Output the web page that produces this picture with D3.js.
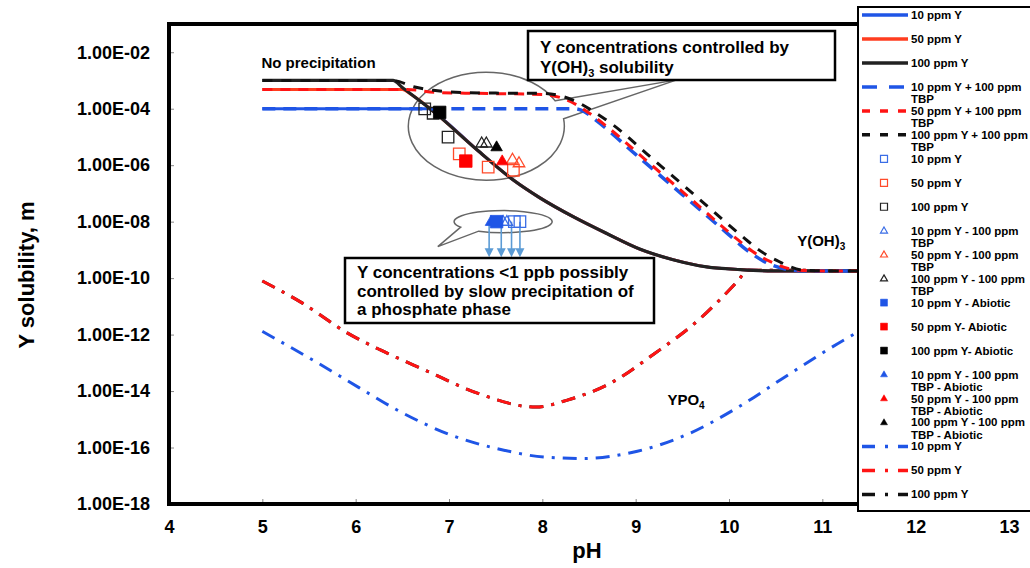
<!DOCTYPE html>
<html><head><meta charset="utf-8">
<script src="https://cdn.jsdelivr.net/npm/d3@7"></script>
<style>
body{margin:0;background:#fff}
svg{display:block}
text{font-family:"Liberation Sans",Arial,sans-serif;font-weight:bold;fill:#000}
</style>
</head><body>
<svg id="c" width="1030" height="568"></svg>
<script>
// ---------- axis ticks ----------
const xTicks = [4,5,6,7,8,9,10,11,12,13];
const xTickLabels = ["4","5","6","7","8","9","10","11","12","13"];
const yTicks = [1e-2,1e-4,1e-6,1e-8,1e-10,1e-12,1e-14,1e-16,1e-18];
const yTickLabels = ["1.00E-02","1.00E-04","1.00E-06","1.00E-08","1.00E-10","1.00E-12","1.00E-14","1.00E-16","1.00E-18"];

// ---------- Y(OH)3 solubility curves, no TBP (solid) [pH, molality] ----------
const oh10 = [[5,1.0e-4],[6.78,1.0e-4],[6.87,6.3e-5],[7.3,3.5e-6],[7.7,2.8e-7],[7.97,7.1e-8],[8.33,1.5e-8],[8.69,3.8e-9],[9.05,1.05e-9],[9.4,4.5e-10],[9.76,2.5e-10],[10.12,2.0e-10],[10.47,1.8e-10],[11,1.8e-10],[12,1.8e-10]];
const oh50 = [[5,4.8e-4],[6.5,4.8e-4],[6.6,3.1e-4],[6.87,6.3e-5],[7.3,3.5e-6],[7.7,2.8e-7],[7.97,7.1e-8],[8.33,1.5e-8],[8.69,3.8e-9],[9.05,1.05e-9],[9.4,4.5e-10],[9.76,2.5e-10],[10.12,2.0e-10],[10.47,1.8e-10],[11,1.8e-10],[12,1.8e-10]];
const oh100 = [[5,1.0e-3],[6.4,1.0e-3],[6.5,5.6e-4],[6.87,6.3e-5],[7.3,3.5e-6],[7.7,2.8e-7],[7.97,7.1e-8],[8.33,1.5e-8],[8.69,3.8e-9],[9.05,1.05e-9],[9.4,4.5e-10],[9.76,2.5e-10],[10.12,2.0e-10],[10.47,1.8e-10],[11,1.8e-10],[12,1.8e-10]];

// ---------- with 100 ppm TBP (dashed) ----------
const tbp10 = [[5,1.0e-4],[8.35,1.0e-4],[8.45,7.9e-5],[8.58,3.8e-5],[9.0,2.4e-6],[9.5,9.1e-8],[10.0,3.4e-9],[10.15,1.26e-9],[10.37,4.0e-10],[10.67,1.95e-10],[10.9,1.8e-10],[12,1.8e-10]];
const tbp50 = [[5,4.8e-4],[6.55,4.8e-4],[6.85,3.8e-4],[7.3,3.5e-4],[8.0,3.2e-4],[8.3,1.8e-4],[8.5,7.1e-5],[8.68,2.5e-5],[9.1,1.6e-6],[9.6,6.0e-8],[10.1,2.2e-9],[10.25,8.9e-10],[10.47,3.5e-10],[10.75,1.9e-10],[11,1.8e-10],[12,1.8e-10]];
const tbp100 = [[5,1.0e-3],[6.4,1.0e-3],[6.62,6.0e-4],[6.83,4.5e-4],[7.33,3.6e-4],[8.0,3.5e-4],[8.33,2.0e-4],[8.55,7.9e-5],[8.75,2.8e-5],[9.17,1.8e-6],[9.67,6.8e-8],[10.17,2.5e-9],[10.32,1.0e-9],[10.54,3.8e-10],[10.8,1.9e-10],[11.05,1.8e-10],[12,1.8e-10]];

// ---------- YPO4 solubility (dash-dot) ----------
const po10 = [[5,1.3e-12],[5.57,1.1e-13],[6.04,1.3e-14],[6.46,2.0e-15],[7.03,2.7e-16],[7.6,7.9e-17],[8.02,4.6e-17],[8.45,4.1e-17],[8.97,6.8e-17],[9.58,3.2e-16],[10.1,2.7e-15],[10.62,3.5e-14],[11.3,8.7e-13],[11.6,3.0e-12]];
const po50 = [[5,7.9e-11],[5.43,1.3e-11],[5.9,1.2e-12],[6.27,2.8e-13],[6.75,5.4e-14],[7.32,8.1e-15],[7.93,2.7e-15],[8.26,4.7e-15],[8.73,1.9e-14],[9.2,2.1e-13],[9.67,3.2e-12],[10.1,8.3e-11],[10.2,1.9e-10],[12,1.8e-10]];
const po100 = [[5,7.9e-11],[5.43,1.3e-11],[5.9,1.2e-12],[6.27,2.8e-13],[6.75,5.4e-14],[7.32,8.1e-15],[7.93,2.7e-15],[8.26,4.7e-15],[8.73,1.9e-14],[9.2,2.1e-13],[9.67,3.2e-12],[10.1,8.3e-11],[10.2,1.9e-10],[12,1.8e-10]];

// ---------- measured concentrations [pH, molality] ----------
const openSq10 = [[7.70,1.0e-8],[7.76,1.0e-8]];
const openSq50 = [[7.11,2.5e-6],[7.42,8.5e-7],[7.69,6.6e-7]];
const openSq100 = [[6.74,9.8e-5],[6.83,6.9e-5],[6.99,9.8e-6]];
const openTri10 = [[7.58,1.0e-8],[7.62,1.0e-8]];
const openTri50 = [[7.68,1.6e-6],[7.75,1.2e-6]];
const openTri100 = [[7.35,6.0e-6],[7.40,6.0e-6]];
const fillSq10 = [[7.51,1.0e-8]];
const fillSq50 = [[7.18,1.4e-6]];
const fillSq100 = [[6.90,7.4e-5]];
const fillTri10 = [[7.45,1.0e-8]];
const fillTri50 = [[7.57,1.4e-6]];
const fillTri100 = [[7.51,4.4e-6]];

// arrows (values below 1 ppb)
const arrowPH = [7.43,7.56,7.67,7.76];
const arrowFrom = 1.0e-8, arrowTo = 5.5e-10;

const legendLabels = ["10 ppm Y","50 ppm Y","100 ppm Y","10 ppm Y + 100 ppm\nTBP","50 ppm Y + 100 ppm\nTBP","100 ppm Y + 100 ppm\nTBP","10 ppm Y","50 ppm Y","100 ppm Y","10 ppm Y - 100 ppm\nTBP","50 ppm Y - 100 ppm\nTBP","100 ppm Y - 100 ppm\nTBP","10 ppm Y - Abiotic","50 ppm Y- Abiotic","100 ppm Y- Abiotic","10 ppm Y - 100 ppm\nTBP - Abiotic","50 ppm Y - 100 ppm\nTBP - Abiotic","100 ppm Y - 100 ppm\nTBP - Abiotic","10 ppm Y","50 ppm Y","100 ppm Y"];

// ---------- styles ----------
const BLUE="#1f55e6", RED="#ff1414", REDS="#ff3d1f", BLACK="#111111";
const MBLUE="#3a6de6", MRED="#ff4a2a", MBLACK="#222";
const DASHDOT="14,8,3,8";

const lineSeries = [
  {data:po100, color:BLACK, w:3, dash:DASHDOT, leg:20},
  {data:po50, color:RED, w:3, dash:DASHDOT, leg:19},
  {data:po10, color:BLUE, w:3, dash:DASHDOT, leg:18},
  {data:oh10, color:BLUE, w:3, dash:null, leg:0},
  {data:oh50, color:REDS, w:3, dash:null, leg:1},
  {data:oh100, color:"#222", w:3.2, dash:null, leg:2},
  {data:tbp10, color:BLUE, w:3.5, dash:"13,8", leg:3},
  {data:tbp50, color:RED, w:3, dash:"10,8", leg:4},
  {data:tbp100, color:BLACK, w:3, dash:"10,9", leg:5},
];
const markerSeries = [
  {data:openSq10, shape:"sq", fill:false, color:MBLUE, leg:6},
  {data:openSq50, shape:"sq", fill:false, color:MRED, leg:7},
  {data:openSq100, shape:"sq", fill:false, color:MBLACK, leg:8},
  {data:openTri10, shape:"tri", fill:false, color:MBLUE, leg:9},
  {data:openTri50, shape:"tri", fill:false, color:MRED, leg:10},
  {data:openTri100, shape:"tri", fill:false, color:MBLACK, leg:11},
  {data:fillTri10, shape:"tri", fill:true, color:BLUE, leg:15},
  {data:fillSq10, shape:"sq", fill:true, color:BLUE, leg:12},
  {data:fillSq50, shape:"sq", fill:true, color:"#ff0000", leg:13},
  {data:fillSq100, shape:"sq", fill:true, color:"#000", leg:14},
  {data:fillTri50, shape:"tri", fill:true, color:"#ff0000", leg:16},
  {data:fillTri100, shape:"tri", fill:true, color:"#000", leg:17},
];

// ---------- scales ----------
const X0=169, X1=1009, Y0=504, Y1=24;
const x = d3.scaleLinear().domain([4,13]).range([X0,X1]);
const y = d3.scaleLog().domain([1e-18,1e-1]).range([Y0,Y1]);
const svg = d3.select("#c");

svg.append("defs").append("clipPath").attr("id","clip")
  .append("rect").attr("x",X0).attr("y",Y1).attr("width",X1-X0).attr("height",Y0-Y1);

// axes
const gx = svg.append("g").attr("transform",`translate(0,${Y0})`)
  .call(d3.axisBottom(x).tickValues(xTicks).tickFormat((d,i)=>xTickLabels[i]).tickSize(-5).tickSizeOuter(0).tickPadding(16));
gx.select(".domain").remove();
gx.selectAll(".tick line").attr("stroke","#888").attr("stroke-width",1);
gx.selectAll(".tick text").attr("font-size",18);
gx.attr("font-family",null).attr("font-size",null);

const gy = svg.append("g").attr("transform",`translate(${X0},0)`)
  .call(d3.axisLeft(y).tickValues(yTicks).tickFormat((d,i)=>yTickLabels[i]).tickSize(-5).tickSizeOuter(0).tickPadding(19));
gy.select(".domain").remove();
gy.selectAll(".tick line").attr("stroke","#888").attr("stroke-width",1);
gy.selectAll(".tick text").attr("font-size",18);
gy.attr("font-family",null).attr("font-size",null);

// axis titles
svg.append("text").attr("transform","translate(34,275) rotate(-90)").attr("text-anchor","middle")
  .attr("font-size",22).text("Y solubility, m");
svg.append("text").attr("x",587).attr("y",558).attr("text-anchor","middle").attr("font-size",22).text("pH");

// ---------- callout ellipses ----------
function callout(cx,cy,rx,ry,a1,a2,tip,sweep){
  const p=(a)=>[cx+rx*Math.cos(a*Math.PI/180), cy+ry*Math.sin(a*Math.PI/180)];
  const P1=p(a1), P2=p(a2);
  return `M${P1[0]},${P1[1]}L${tip[0]},${tip[1]}L${P2[0]},${P2[1]}A${rx},${ry} 0 1 ${sweep} ${P1[0]},${P1[1]}Z`;
}
const plot = svg.append("g").attr("clip-path","url(#clip)");

plot.append("path")
  .attr("d",callout(x(7.4),y(2.4e-5),78,54,-28,-8,[x(9.44),y(1.05e-3)],1))
  .attr("fill","none").attr("stroke","#666").attr("stroke-width",1.5);
plot.append("path")
  .attr("d",callout(x(7.58),y(1.0e-8),49,11,150,120,[x(6.88),y(1.3e-9)],0))
  .attr("fill","none").attr("stroke","#666").attr("stroke-width",1.5);

// ---------- lines ----------
const line = d3.line().x(d=>x(d[0])).y(d=>y(d[1])).curve(d3.curveMonotoneX);
lineSeries.forEach(s=>{
  plot.append("path").attr("d",line(s.data)).attr("fill","none")
    .attr("stroke",s.color).attr("stroke-width",s.w)
    .attr("stroke-dasharray",s.dash);
});

// arrows
const AC="#5b9bd5";
arrowPH.forEach(p=>{
  const xa=x(p), ya=y(arrowFrom), yb=y(arrowTo);
  plot.append("line").attr("x1",xa).attr("x2",xa).attr("y1",ya).attr("y2",yb-7).attr("stroke",AC).attr("stroke-width",1.6);
  plot.append("path").attr("d",`M${xa-4.5},${yb-9}L${xa+4.5},${yb-9}L${xa},${yb}Z`).attr("fill",AC);
});

// markers
function markerPath(shape,s){
  if(shape==="sq"){ const h=s/2; return `M${-h},${-h}H${h}V${h}H${-h}Z`; }
  const h=s*0.866; return `M0,${-h*0.62}L${s/2},${h*0.38}L${-s/2},${h*0.38}Z`;
}
markerSeries.forEach(s=>{
  plot.selectAll(null).data(s.data).enter().append("path")
    .attr("transform",d=>`translate(${x(d[0])},${y(d[1])})`)
    .attr("d",markerPath(s.shape, s.fill&&s.shape==="sq"?12.5:11.5))
    .attr("fill",s.fill?s.color:"none")
    .attr("stroke",s.color).attr("stroke-width",s.fill?0.8:1.3);
});

// frame
svg.append("rect").attr("x",X0).attr("y",Y1).attr("width",X1-X0).attr("height",Y0-Y1)
  .attr("fill","none").attr("stroke","#000").attr("stroke-width",4);

// ---------- annotations ----------
svg.append("text").attr("x",x(4.99)).attr("y",68).attr("font-size",15).text("No precipitation");
const t1 = svg.append("text").attr("x",x(10.73)).attr("y",y(1.4e-9)).attr("font-size",15);
t1.append("tspan").text("Y(OH)");
t1.append("tspan").attr("font-size",10).attr("dy",4).text("3");
const t2 = svg.append("text").attr("x",x(9.34)).attr("y",y(3.2e-15)).attr("font-size",15);
t2.append("tspan").text("YPO");
t2.append("tspan").attr("font-size",10).attr("dy",4).text("4");

// box 1
svg.append("rect").attr("x",528).attr("y",31).attr("width",307).attr("height",49)
  .attr("fill","#fff").attr("stroke","#000").attr("stroke-width",2.5);
svg.append("text").attr("x",540).attr("y",53).attr("font-size",17).text("Y concentrations controlled by");
const b1 = svg.append("text").attr("x",540).attr("y",73).attr("font-size",17);
b1.append("tspan").text("Y(OH)");
b1.append("tspan").attr("font-size",11).attr("dy",4).text("3");
b1.append("tspan").attr("dy",-4).text(" solubility");

// box 2
svg.append("rect").attr("x",345).attr("y",258).attr("width",309).attr("height",65)
  .attr("fill","#fff").attr("stroke","#000").attr("stroke-width",2.5);
["Y concentrations <1 ppb possibly","controlled by slow precipitation of","a phosphate phase"].forEach((s,i)=>{
  svg.append("text").attr("x",357).attr("y",278+i*18.5).attr("font-size",17).text(s);
});

// ---------- legend ----------
const LX=858, LY=7;
svg.append("rect").attr("x",LX).attr("y",LY).attr("width",200).attr("height",504)
  .attr("fill","#fff").attr("stroke","#000").attr("stroke-width",2);
const legY = i => 15 + i*23.97;
const lg = svg.append("g");
lineSeries.forEach(s=>{
  lg.append("line").attr("x1",862).attr("x2",908).attr("y1",legY(s.leg)).attr("y2",legY(s.leg))
    .attr("stroke",s.color).attr("stroke-width",3.5)
    .attr("stroke-dasharray",s.dash===DASHDOT?"13,10,3,10":(s.dash?(s.leg===3?"15,12":"8,10"):null));
});
markerSeries.forEach(s=>{
  lg.append("path").attr("transform",`translate(884,${legY(s.leg)})`)
    .attr("d",markerPath(s.shape,7))
    .attr("fill",s.fill?s.color:"none").attr("stroke",s.color).attr("stroke-width",s.fill?0.5:1.2);
});
legendLabels.forEach((lab,i)=>{
  const t = lg.append("text").attr("x",911).attr("y",legY(i)+4).attr("font-size",11.5);
  lab.split("\n").forEach((ln,j)=>{
    t.append("tspan").attr("x",911).attr("dy",j?12.5:0).text(ln);
  });
});
</script>
</body></html>
